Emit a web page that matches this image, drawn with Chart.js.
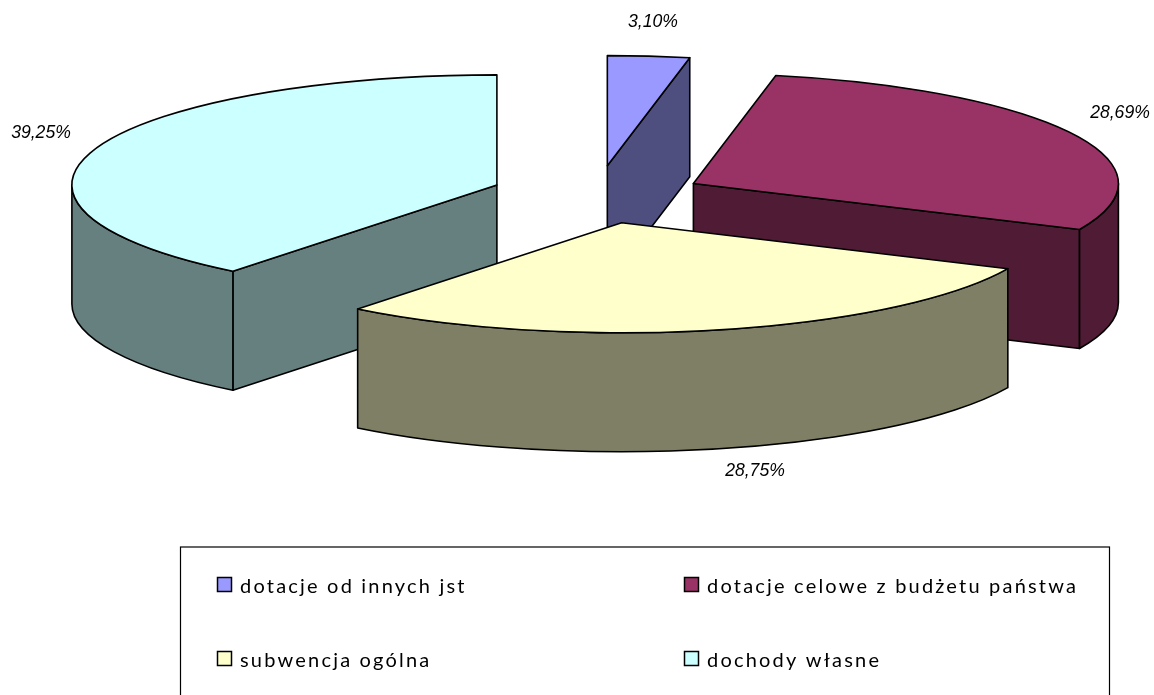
<!DOCTYPE html>
<html lang="pl">
<head>
<meta charset="utf-8">
<title>Struktura dochodów</title>
<style>html,body{margin:0;padding:0;background:#fff;overflow:hidden}canvas{display:block}</style>
<script src="https://cdn.jsdelivr.net/npm/chart.js@4"></script>
</head>
<body>
<canvas id="c" width="1154" height="695"></canvas>
<script>
const categories = ['dotacje od innych jst', 'dotacje celowe z budżetu państwa', 'subwencja ogólna', 'dochody własne'];
const shares = [3.10, 28.69, 28.75, 39.25];
const topColors = ['#9999FF', '#993366', '#FFFFCC', '#CCFFFF'];
const sideColors = ['#4F4F7F', '#4F1B35', '#7F7F66', '#667F7F'];

const look = {
  squash: 0.259, depth: 119, lineWidth: 1.6,
  drawOrder: [0, 1, 3, 2],
  nudgeX: [0, 2, 0, 0],
  nudgeY: [-3, 0, 0, -2],
  labelCentres: [[653, 22], [1120, 113], [755, 471], [41, 133]],
  labelFont: 'italic 17.6px "Liberation Sans"',
  legendFont: '20px Lato',
  legendSpacing: '2.2px',
  legendBox: [180.5, 547, 929, 160],
  legendSwatches: [[217.5, 577.5], [684.5, 577.5], [217.5, 651.5], [684.5, 651.5]],
  legendText: [[240, 593], [707, 593], [240, 667], [707, 667]]
};

const pie3d = {
  id: 'pie3d',
  beforeDatasetsDraw(chart) {
    const ctx = chart.ctx;
    const arcs = chart.getDatasetMeta(0).data;
    const k = look.squash, depth = look.depth;
    ctx.save();
    ctx.lineWidth = look.lineWidth;
    ctx.lineJoin = 'round';
    ctx.strokeStyle = '#000';
    for (const i of look.drawOrder) {
      const arc = arcs[i];
      const a0 = arc.startAngle, a1 = arc.endAngle, r = arc.outerRadius;
      const mid = (a0 + a1) / 2, off = arc.options.offset;
      const cx = arc.x + Math.cos(mid) * off + look.nudgeX[i];
      const cy = arc.y + Math.sin(mid) * off * k + look.nudgeY[i];
      const ry = r * k;
      const px = a => cx + Math.cos(a) * r;
      const py = a => cy + Math.sin(a) * ry;
      ctx.fillStyle = sideColors[i];
      const wall = a => {
        ctx.beginPath();
        ctx.moveTo(cx, cy);
        ctx.lineTo(px(a), py(a));
        ctx.lineTo(px(a), py(a) + depth);
        ctx.lineTo(cx, cy + depth);
        ctx.closePath();
        ctx.fill(); ctx.stroke();
      };
      if (Math.cos(a0) < -1e-9) wall(a0);
      if (Math.cos(a1) > 1e-9) wall(a1);
      const s = Math.max(a0, 0), e = Math.min(a1, Math.PI);
      if (e > s) {
        ctx.beginPath();
        ctx.ellipse(cx, cy, r, ry, 0, s, e);
        ctx.lineTo(px(e), py(e) + depth);
        ctx.ellipse(cx, cy + depth, r, ry, 0, e, s, true);
        ctx.closePath();
        ctx.fill(); ctx.stroke();
      }
      ctx.fillStyle = topColors[i];
      ctx.beginPath();
      ctx.moveTo(cx, cy);
      ctx.ellipse(cx, cy, r, ry, 0, a0, a1);
      ctx.closePath();
      ctx.fill(); ctx.stroke();
    }
    ctx.restore();
    return false;
  },
  afterDraw(chart) {
    const ctx = chart.ctx;
    ctx.save();
    ctx.fillStyle = '#000';
    ctx.textBaseline = 'middle';
    ctx.textAlign = 'center';
    ctx.font = look.labelFont;
    shares.forEach((v, i) => {
      const [x, y] = look.labelCentres[i];
      ctx.fillText(v.toFixed(2).replace('.', ',') + '%', x, y);
    });
    ctx.strokeStyle = '#000';
    ctx.lineWidth = 1.2;
    const [bx, by, bw, bh] = look.legendBox;
    ctx.strokeRect(bx, by, bw, bh);
    ctx.textAlign = 'left';
    ctx.textBaseline = 'alphabetic';
    ctx.font = look.legendFont;
    ctx.letterSpacing = look.legendSpacing;
    categories.forEach((name, i) => {
      const [sx, sy] = look.legendSwatches[i];
      ctx.fillStyle = topColors[i];
      ctx.lineWidth = 1.5;
      ctx.fillRect(sx, sy, 14, 14);
      ctx.strokeRect(sx, sy, 14, 14);
      ctx.fillStyle = '#000';
      const [tx, ty] = look.legendText[i];
      ctx.fillText(name, tx, ty);
    });
    ctx.restore();
  }
};

new Chart(document.getElementById('c'), {
  type: 'pie',
  data: {
    labels: categories,
    datasets: [{
      data: shares,
      backgroundColor: topColors,
      borderColor: '#000',
      borderWidth: 1,
      offset: 106,
      radius: 425
    }]
  },
  options: {
    responsive: false,
    animation: false,
    layout: { padding: { left: 40, right: 0, top: 0, bottom: 303 } },
    plugins: { legend: { display: false }, tooltip: { enabled: false }, title: { display: false } }
  },
  plugins: [pie3d]
});
</script>
</body>
</html>
